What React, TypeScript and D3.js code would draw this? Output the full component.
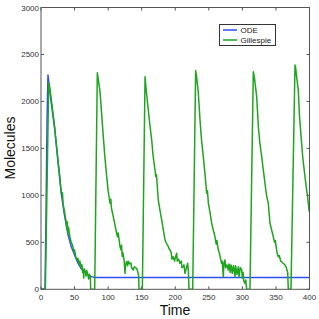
import React from "react";
import * as d3 from "d3";

const xTicks = [0, 50, 100, 150, 200, 250, 300, 350, 400];
const yTicks = [0, 500, 1000, 1500, 2000, 2500, 3000];
const seriesNames = ["ODE", "Gillespie"];

const odeT = [0, 6, 7.5, 9, 10.4, 12, 15, 20, 25, 30, 35, 40, 45, 50, 55, 60, 65, 70, 75, 80, 400];
const odeV = [0, 0, 800, 1800, 2282, 2180, 2000, 1730, 1380, 1030, 790, 590, 455, 365, 280, 220, 180, 152, 135, 125, 125];

const gilT = [
  0, 6.5, 11.5, 13, 15.4, 18, 20.3, 23, 25.3, 28, 30.3, 32, 33, 35, 37.7, 38.5, 39, 40, 41, 43, 45, 47, 49, 50, 52, 54, 55, 57, 58, 60, 61, 62, 63, 63.6, 64.2, 66, 67, 68, 70, 71, 72, 73.5, 74, 80,
  83.9, 85, 87.9, 90, 92.8, 95, 97.9, 100, 102.8, 104, 105, 107.7, 110, 112.7, 114, 115, 117.7, 119, 120, 121, 122, 124, 125.1, 126, 127.6, 129, 130, 132, 134, 135, 137.5, 139, 141, 142.5, 144, 145.5, 146, 151,
  155, 157, 159.9, 162, 164.9, 167, 169.8, 171, 172, 174.7, 177, 179.8, 182, 184.8, 187, 189.7, 191, 192.2, 194, 195, 197.1, 199, 200, 202.1, 203, 205, 207, 209, 210, 212, 213, 214.5, 216, 218.5, 219.5, 220.5, 226,
  230.4, 232, 234.4, 236.9, 239, 241.8, 244, 246.8, 248, 249.3, 251, 254.3, 256, 259.2, 261, 262, 264.1, 266, 267, 269.1, 270, 271.6, 272.5, 274.1, 275, 277, 279, 280, 282, 283, 284, 285, 287, 289, 290, 292, 294, 295, 297, 299, 300, 301, 302, 303.9, 305, 306.4, 311.3,
  316.3, 318, 321.3, 323.8, 326, 328.8, 331, 333.7, 336, 338.6, 340, 341.1, 343, 346, 348, 349, 351, 352, 353.5, 355, 357, 358.5, 360, 362, 363.5, 365, 366.5, 367.5, 368.4, 372.4,
  378.4, 379.5, 381, 383.3, 385, 388.3, 390, 393.3, 395.7, 397, 399.2, 400,
];
const gilV = [
  0, 0, 2200, 2150, 2015, 1870, 1731, 1540, 1376, 1200, 1022, 1030, 900, 830, 702, 640, 720, 600, 660, 560, 500, 470, 400, 420, 340, 310, 330, 260, 300, 220, 260, 180, 200, 120, 220, 190, 140, 200, 150, 110, 160, 140, 0, 0,
  2306, 2250, 2104, 1900, 1625, 1420, 1199, 1050, 916, 960, 860, 773, 690, 596, 560, 600, 454, 420, 470, 350, 390, 300, 170, 260, 294, 250, 300, 270, 280, 230, 205, 240, 230, 223, 190, 140, 0, 0,
  2263, 2100, 1909, 1760, 1590, 1420, 1270, 1200, 1220, 951, 850, 738, 640, 525, 490, 454, 430, 418, 390, 320, 347, 300, 330, 383, 300, 320, 277, 300, 230, 241, 260, 170, 210, 277, 200, 0, 0,
  2328, 2250, 2087, 1802, 1600, 1412, 1250, 1022, 1050, 916, 850, 702, 650, 560, 480, 520, 418, 380, 340, 277, 300, 135, 280, 312, 230, 260, 205, 270, 180, 260, 241, 170, 250, 134, 250, 160, 241, 134, 230, 206, 120, 180, 90, 64, 100, 0, 0,
  2317, 2250, 2051, 1731, 1560, 1412, 1280, 1128, 1000, 916, 800, 702, 650, 560, 500, 520, 418, 380, 347, 360, 300, 294, 280, 270, 259, 240, 206, 180, 0, 0,
  2388, 2350, 2250, 2122, 1850, 1554, 1400, 1199, 1057, 1000, 844, 820,
];

const W = 319, H = 319;
const L = 41, R = 309.5, T = 7.5, B = 289.3;

export default function App() {
  const x = d3.scaleLinear().domain([0, 400]).range([L, R]);
  const y = d3.scaleLinear().domain([0, 3000]).range([B, T]);
  const line = d3.line<[number, number]>().x((d) => x(d[0])).y((d) => y(d[1]));
  const ode = odeT.map((t, i) => [t, odeV[i]] as [number, number]);
  const gil = gilT.map((t, i) => [t, gilV[i]] as [number, number]);
  const axisColor = "#555";
  const font = "Liberation Sans, Arial, Helvetica, sans-serif";
  const colors = ["#2d4ff5", "#1ea51e"];
  return (
    <svg width={W} height={H} style={{ position: "absolute", left: 0, top: 0, background: "#fff" }} fontFamily={font}>
      <defs>
        <clipPath id="plot">
          <rect x={L} y={T} width={R - L} height={B - T} />
        </clipPath>
      </defs>
      <rect x={0} y={0} width={W} height={H} fill="#fff" />
      <g clipPath="url(#plot)" fill="none" strokeWidth={1.5} strokeLinejoin="round">
        <path d={line(ode) || ""} stroke={colors[0]} />
        <path d={line(gil) || ""} stroke={colors[1]} />
      </g>
      <rect x={L} y={T} width={R - L} height={B - T} fill="none" stroke={axisColor} strokeWidth={1} />
      {xTicks.map((t) => (
        <g key={"x" + t}>
          <line x1={x(t)} x2={x(t)} y1={B} y2={B - 3} stroke={axisColor} />
          <line x1={x(t)} x2={x(t)} y1={T} y2={T + 3} stroke={axisColor} />
          <text x={x(t)} y={299.5} fontSize={8} textAnchor="middle" fill="#333">{t}</text>
        </g>
      ))}
      {yTicks.map((v) => (
        <g key={"y" + v}>
          <line x1={L} x2={L + 3} y1={y(v)} y2={y(v)} stroke={axisColor} />
          <line x1={R} x2={R - 3} y1={y(v)} y2={y(v)} stroke={axisColor} />
          <text x={39} y={y(v) + 3} fontSize={8} textAnchor="end" fill="#333">{v}</text>
        </g>
      ))}
      <text x={175} y={314.5} fontSize={14} textAnchor="middle" fill="#111">Time</text>
      <text transform={`translate(15,148) rotate(-90)`} fontSize={14} textAnchor="middle" fill="#111">Molecules</text>
      <g>
        <rect x={219.5} y={24.5} width={56} height={21} fill="#fff" stroke="#333" strokeWidth={1} />
        {seriesNames.map((n, i) => (
          <g key={n}>
            <line x1={223} x2={237} y1={30 + i * 10} y2={30 + i * 10} stroke={colors[i]} strokeWidth={1.5} />
            <text x={240.5} y={33 + i * 10} fontSize={8} fill="#222">{n}</text>
          </g>
        ))}
      </g>
    </svg>
  );
}
